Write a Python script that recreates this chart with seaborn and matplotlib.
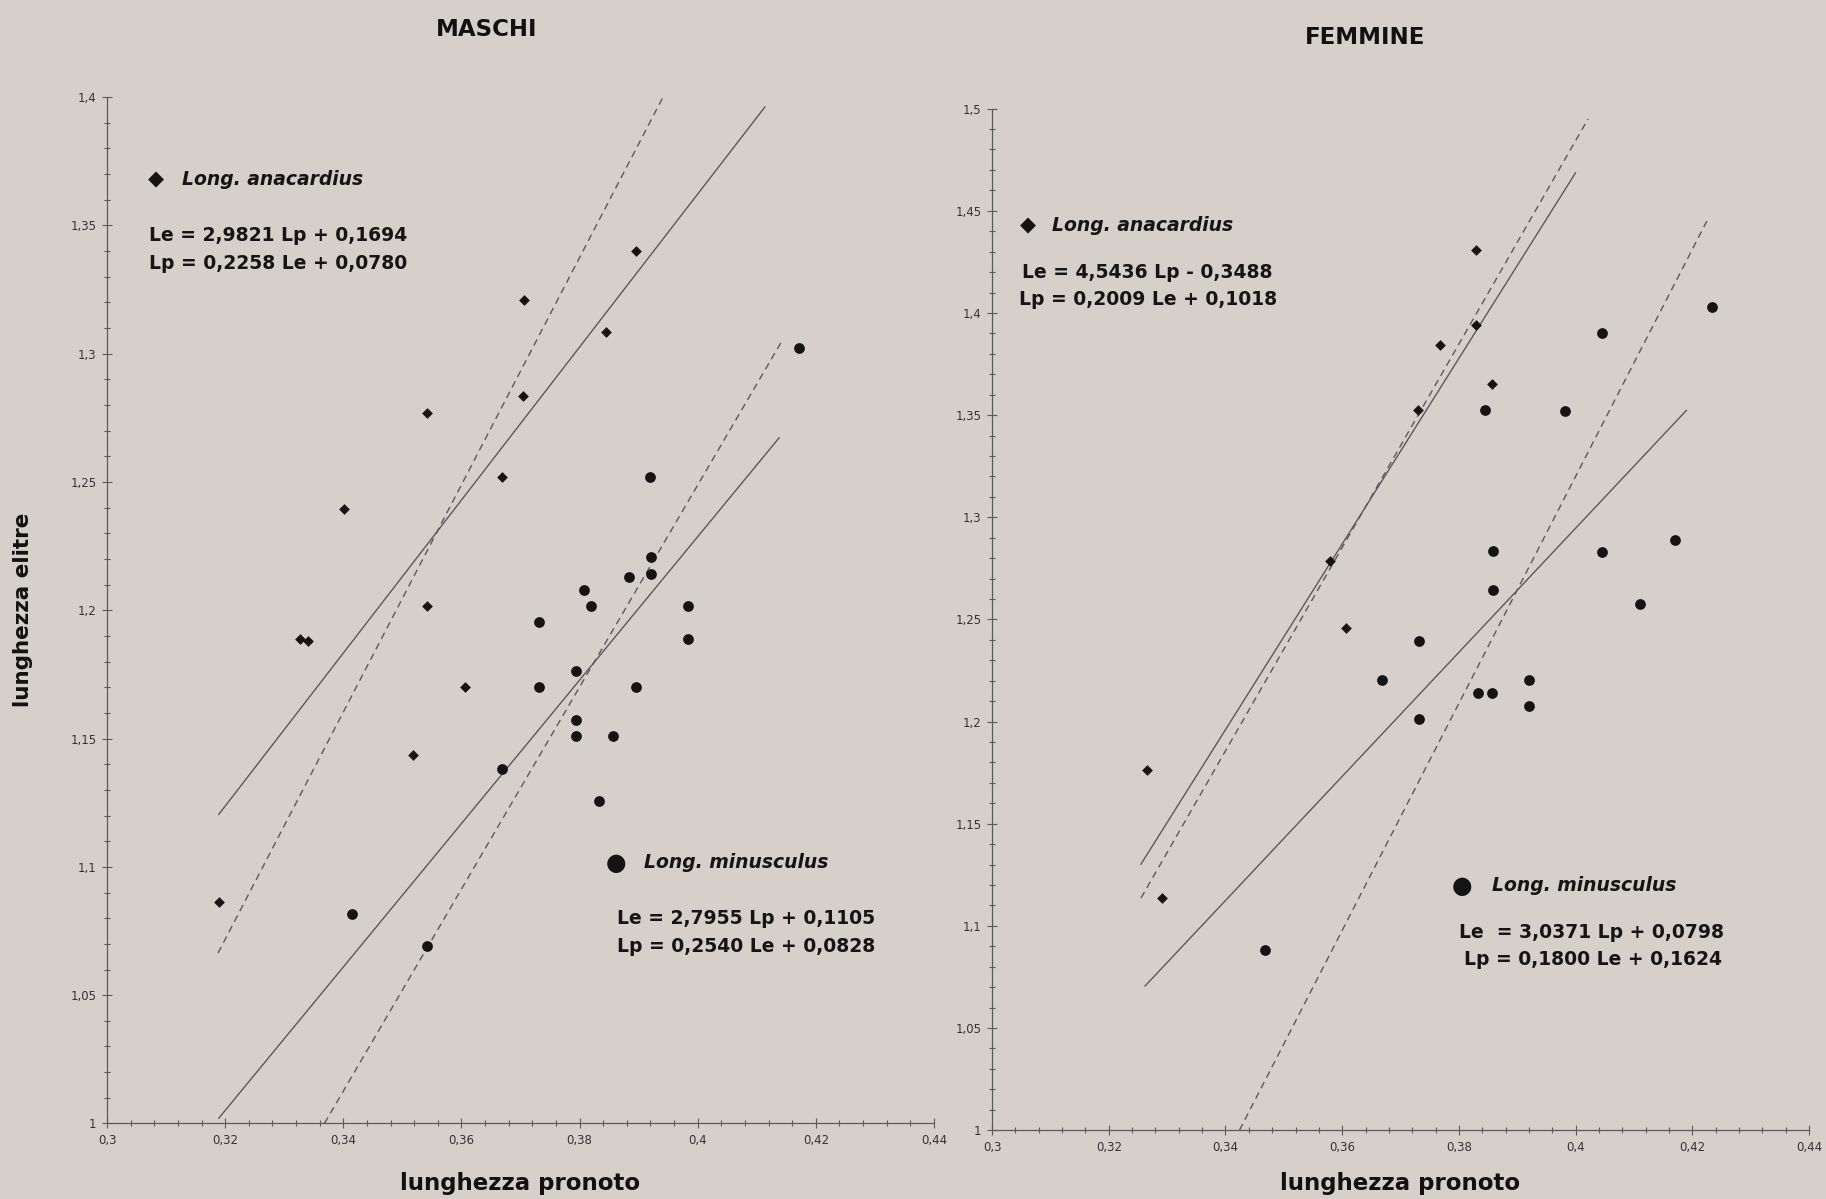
import numpy as np
import pandas as pd
import matplotlib
matplotlib.use("Agg")
import matplotlib.pyplot as plt
from matplotlib.ticker import MultipleLocator, FuncFormatter
import seaborn as sns

# Dati: lunghezza pronoto (Lp) e lunghezza elitre (Le)
maschi_ana_lp = [0.3895, 0.3706, 0.3844, 0.3542, 0.3704, 0.3668, 0.3402, 0.3542, 0.3327, 0.3340, 0.3606, 0.3518, 0.3189]
maschi_ana_le = [1.3400, 1.3210, 1.3085, 1.2770, 1.2835, 1.2520, 1.2395, 1.2015, 1.1890, 1.1880, 1.1700, 1.1437, 1.0865]

maschi_min_lp = [0.4172, 0.3920, 0.3921, 0.3883, 0.3921, 0.3807, 0.3819, 0.3984, 0.3731, 0.3984,
                 0.3794, 0.3731, 0.3896, 0.3794, 0.3794, 0.3857, 0.3669, 0.3833, 0.3415, 0.3542]
maschi_min_le = [1.3023, 1.2520, 1.2206, 1.2129, 1.2143, 1.2081, 1.2018, 1.2018, 1.1953, 1.1888,
                 1.1763, 1.1700, 1.1700, 1.1574, 1.1510, 1.1510, 1.1382, 1.1257, 1.0816, 1.0691]

femmine_ana_lp = [0.3830, 0.3830, 0.3768, 0.3856, 0.3730, 0.3579, 0.3606, 0.3265, 0.3291]
femmine_ana_le = [1.4310, 1.3943, 1.3845, 1.3651, 1.3525, 1.2785, 1.2458, 1.1765, 1.1134]

femmine_min_lp = [0.4233, 0.4045, 0.3844, 0.3982, 0.4171, 0.3858, 0.4045, 0.3858, 0.4110,
                  0.3731, 0.3668, 0.3920, 0.3833, 0.3857, 0.3920, 0.3731, 0.3467]
femmine_min_le = [1.4028, 1.3902, 1.3525, 1.3520, 1.2889, 1.2833, 1.2829, 1.2646, 1.2577,
                  1.2395, 1.2204, 1.2202, 1.2139, 1.2139, 1.2077, 1.2012, 1.0880]

# Rette di regressione: Le = a*Lp + b (continua) e Lp = c*Le + d (tratteggiata)
# (coefficienti dalle equazioni del grafico, intervalli)
maschi_ana_fit = dict(a=2.9821, b=0.1694, c=0.2258, d=0.0780, lp=(0.3189, 0.4114), le=(1.0664, 1.4000))
maschi_min_fit = dict(a=2.7955, b=0.1105, c=0.2540, d=0.0828, lp=(0.3189, 0.4138), le=(1.0000, 1.3053))
femmine_ana_fit = dict(a=4.5436, b=-0.3488, c=0.2009, d=0.1018, lp=(0.3255, 0.4000), le=(1.1136, 1.4950))
femmine_min_fit = dict(a=3.0371, b=0.0798, c=0.1800, d=0.1624, lp=(0.3262, 0.4190), le=(1.0000, 1.4470))

sfondo = "#d5d0ca"
nero = "#141414"
grigio = "#5a5a5a"

sns.set_theme(style="ticks")
plt.rcParams["font.family"] = ["DejaVu Sans"]

fig = plt.figure(figsize=(18.26, 11.99), dpi=100, facecolor=sfondo)
ax1 = fig.add_axes([0.0586, 0.0630, 0.4529, 0.8560])
ax2 = fig.add_axes([0.5433, 0.0574, 0.4474, 0.8520])


def virgola(v, pos):
    return f"{v:g}".replace(".", ",")


def disegna(ax, ana_lp, ana_le, min_lp, min_le, fit_ana, fit_min, ymax):
    ax.set_facecolor(sfondo)
    # rette
    for fit in (fit_ana, fit_min):
        xs = np.array(fit["lp"])
        sns.lineplot(x=xs, y=fit["a"] * xs + fit["b"], ax=ax, color=grigio, lw=1.0)
        ys = np.array(fit["le"])
        sns.lineplot(x=fit["c"] * ys + fit["d"], y=ys, ax=ax, color=grigio, lw=1.0,
                     linestyle=(0, (5, 3.5)))
    # punti
    sns.scatterplot(x=ana_lp, y=ana_le, ax=ax, marker="D", s=30, color=nero, linewidth=0, zorder=3)
    sns.scatterplot(x=min_lp, y=min_le, ax=ax, marker="o", s=60, color=nero, linewidth=0, zorder=3)

    ax.set_xlim(0.3, 0.44)
    ax.set_ylim(1.0, ymax)
    ax.xaxis.set_major_locator(MultipleLocator(0.02))
    ax.xaxis.set_minor_locator(MultipleLocator(0.004))
    ax.yaxis.set_major_locator(MultipleLocator(0.05))
    ax.yaxis.set_minor_locator(MultipleLocator(0.01))
    ax.xaxis.set_major_formatter(FuncFormatter(virgola))
    ax.yaxis.set_major_formatter(FuncFormatter(virgola))
    ax.tick_params(which="major", direction="inout", length=7, width=0.8, color=grigio,
                   labelsize=8.5, labelcolor="#333333", pad=4)
    ax.tick_params(which="minor", direction="inout", length=5, width=0.8, color=grigio)
    sns.despine(ax=ax)
    for s in ("left", "bottom"):
        ax.spines[s].set_color(grigio)
        ax.spines[s].set_linewidth(0.9)
    ax.set_xlabel("lunghezza pronoto", fontsize=16.5, fontweight="bold", color="#111111")
    ax.set_ylabel("")


disegna(ax1, maschi_ana_lp, maschi_ana_le, maschi_min_lp, maschi_min_le,
        maschi_ana_fit, maschi_min_fit, 1.4)
disegna(ax2, femmine_ana_lp, femmine_ana_le, femmine_min_lp, femmine_min_le,
        femmine_ana_fit, femmine_min_fit, 1.5)

ax1.xaxis.set_label_coords(0.50, -0.047)
ax2.xaxis.set_label_coords(0.50, -0.041)
ax1.set_ylabel("lunghezza elitre", fontsize=15.5, fontweight="bold", color="#111111")
ax1.yaxis.set_label_coords(-0.090, 0.50)

# titoli
fig.text(487 / 1826, 1 - 29 / 1199, "MASCHI", ha="center", va="center",
         fontsize=16.5, fontweight="bold", color="#111111")
fig.text(1365 / 1826, 1 - 37 / 1199, "FEMMINE", ha="center", va="center",
         fontsize=16.5, fontweight="bold", color="#111111")

# legende ed equazioni
eq = dict(fontsize=13.5, fontweight="bold", color="#151515", va="center")
nome = dict(fontsize=13.5, fontweight="bold", style="italic", color="#151515", va="center")

ax1.text(0.3083, 1.3678, "\u25c6", fontsize=15, color=nero, ha="center", va="center")
ax1.text(0.3127, 1.3678, "Long. anacardius", **nome)
ax1.text(0.3071, 1.3459, "Le = 2,9821 Lp + 0,1694", **eq)
ax1.text(0.3071, 1.3350, "Lp = 0,2258 Le + 0,0780", **eq)

ax1.text(0.3861, 1.1016, "\u25cf", fontsize=17, color=nero, ha="center", va="center")
ax1.text(0.3909, 1.1016, "Long. minusculus", **nome)
ax1.text(0.3863, 1.0797, "Le = 2,7955 Lp + 0,1105", **eq)
ax1.text(0.3863, 1.0690, "Lp = 0,2540 Le + 0,0828", **eq)

ax2.text(0.3061, 1.4427, "\u25c6", fontsize=15, color=nero, ha="center", va="center")
ax2.text(0.3103, 1.4427, "Long. anacardius", **nome)
ax2.text(0.3052, 1.4200, "Le = 4,5436 Lp - 0,3488", **eq)
ax2.text(0.3047, 1.4068, "Lp = 0,2009 Le + 0,1018", **eq)

ax2.text(0.3805, 1.1197, "\u25cf", fontsize=17, color=nero, ha="center", va="center")
ax2.text(0.3856, 1.1197, "Long. minusculus", **nome)
ax2.text(0.3800, 1.0968, "Le  = 3,0371 Lp + 0,0798", **eq)
ax2.text(0.3808, 1.0833, "Lp = 0,1800 Le + 0,1624", **eq)

fig.savefig("out.png", dpi=100, facecolor=sfondo)
